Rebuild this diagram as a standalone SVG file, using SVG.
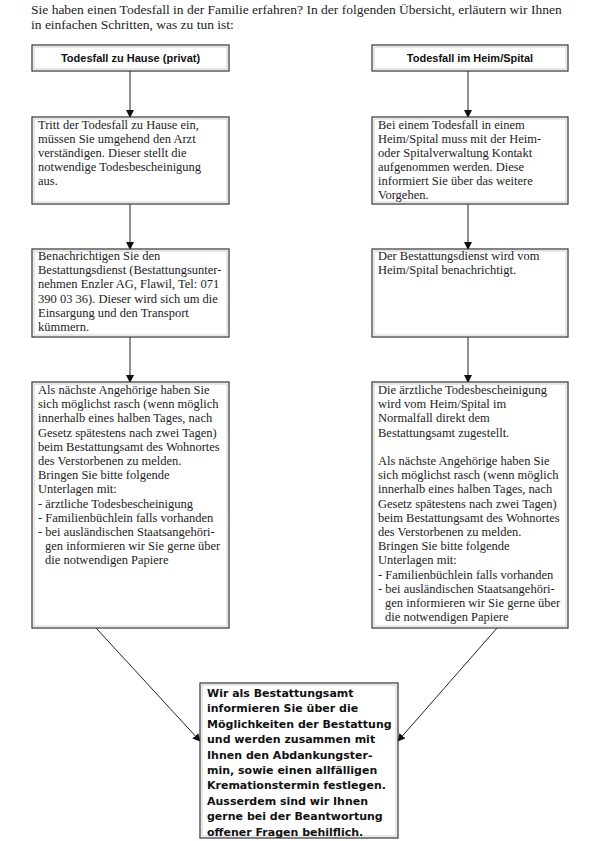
<svg xmlns="http://www.w3.org/2000/svg" width="595" height="841" viewBox="0 0 595 841">
<style>
.bg{fill:#fff}
.box{fill:#fff;stroke:#333;stroke-width:1.2}
.in{fill:none;stroke:#d0d0d0;stroke-width:1}
.t{font-family:"Liberation Serif","Times New Roman",serif;font-size:12.5px;fill:#222}
.h{font-family:"Liberation Sans",Arial,sans-serif;font-size:11px;font-weight:bold;fill:#111;text-anchor:middle}
.b{font-family:"DejaVu Sans","Liberation Sans",sans-serif;font-size:11px;font-weight:bold;fill:#111}
.c{stroke:#222;stroke-width:1;fill:none}
</style>
<defs>
<marker id="ah" markerWidth="8" markerHeight="8" refX="7" refY="4" orient="auto" markerUnits="userSpaceOnUse">
<path d="M0,0 L8,4 L0,8 Z" fill="#111"/>
</marker>
</defs>
<rect class="bg" x="0" y="0" width="595" height="841"/>
<g id="intro" class="t" style="font-size:13.5px">
<text x="31" y="14">Sie haben einen Todesfall in der Familie erfahren? In der folgenden Übersicht, erläutern wir Ihnen</text>
<text x="31" y="29">in einfachen Schritten, was zu tun ist:</text>
</g>
<g id="connectors">
<line class="c" x1="130" y1="71" x2="130" y2="117" marker-end="url(#ah)"/>
<line class="c" x1="468" y1="71" x2="468" y2="117" marker-end="url(#ah)"/>
<line class="c" x1="130" y1="204" x2="130" y2="249" marker-end="url(#ah)"/>
<line class="c" x1="468" y1="204" x2="468" y2="249" marker-end="url(#ah)"/>
<line class="c" x1="130" y1="337" x2="130" y2="382" marker-end="url(#ah)"/>
<line class="c" x1="468" y1="337" x2="468" y2="382" marker-end="url(#ah)"/>
<line class="c" x1="96" y1="628" x2="200" y2="741" marker-end="url(#ah)"/>
<line class="c" x1="497" y1="628" x2="398" y2="741" marker-end="url(#ah)"/>
</g>
<g id="head-left">
<rect class="box" x="32" y="45" width="197" height="26"/>
<rect class="in" x="34" y="47" width="193" height="22"/>
<text class="h" x="130.5" y="62">Todesfall zu Hause (privat)</text>
</g>
<g id="head-right">
<rect class="box" x="372" y="45" width="196" height="26"/>
<rect class="in" x="374" y="47" width="192" height="22"/>
<text class="h" x="470" y="62">Todesfall im Heim/Spital</text>
</g>
<g id="left-1">
<rect class="box" x="32" y="117" width="197" height="87"/>
<rect class="in" x="34" y="119" width="193" height="83"/>
<text class="t" x="38" y="129">Tritt der Todesfall zu Hause ein,</text>
<text class="t" x="38" y="143">müssen Sie umgehend den Arzt</text>
<text class="t" x="38" y="157">verständigen. Dieser stellt die</text>
<text class="t" x="38" y="171">notwendige Todesbescheinigung</text>
<text class="t" x="38" y="185">aus.</text>
</g>
<g id="right-1">
<rect class="box" x="372" y="117" width="196" height="87"/>
<rect class="in" x="374" y="119" width="192" height="83"/>
<text class="t" x="378" y="129">Bei einem Todesfall in einem</text>
<text class="t" x="378" y="143">Heim/Spital muss mit der Heim-</text>
<text class="t" x="378" y="157">oder Spitalverwaltung Kontakt</text>
<text class="t" x="378" y="171">aufgenommen werden. Diese</text>
<text class="t" x="378" y="185">informiert Sie über das weitere</text>
<text class="t" x="378" y="199">Vorgehen.</text>
</g>
<g id="left-2">
<rect class="box" x="32" y="249" width="197" height="88"/>
<rect class="in" x="34" y="251" width="193" height="84"/>
<text class="t" x="38" y="260">Benachrichtigen Sie den</text>
<text class="t" x="38" y="274.2">Bestattungsdienst (Bestattungsunter-</text>
<text class="t" x="38" y="288.4">nehmen Enzler AG, Flawil, Tel: 071</text>
<text class="t" x="38" y="302.6">390 03 36). Dieser wird sich um die</text>
<text class="t" x="38" y="316.8">Einsargung und den Transport</text>
<text class="t" x="38" y="331">kümmern.</text>
</g>
<g id="right-2">
<rect class="box" x="372" y="249" width="196" height="88"/>
<rect class="in" x="374" y="251" width="192" height="84"/>
<text class="t" x="378" y="260">Der Bestattungsdienst wird vom</text>
<text class="t" x="378" y="274.2">Heim/Spital benachrichtigt.</text>
</g>
<g id="left-3">
<rect class="box" x="32" y="382" width="197" height="246"/>
<rect class="in" x="34" y="384" width="193" height="242"/>
<text class="t" x="38" y="394">Als nächste Angehörige haben Sie</text>
<text class="t" x="38" y="408.2">sich möglichst rasch (wenn möglich</text>
<text class="t" x="38" y="422.4">innerhalb eines halben Tages, nach</text>
<text class="t" x="38" y="436.6">Gesetz spätestens nach zwei Tagen)</text>
<text class="t" x="38" y="450.8">beim Bestattungsamt des Wohnortes</text>
<text class="t" x="38" y="465">des Verstorbenen zu melden.</text>
<text class="t" x="38" y="479.2">Bringen Sie bitte folgende</text>
<text class="t" x="38" y="493.4">Unterlagen mit:</text>
<text class="t" x="38" y="507.6">- ärztliche Todesbescheinigung</text>
<text class="t" x="38" y="521.8">- Familienbüchlein falls vorhanden</text>
<text class="t" x="38" y="536">- bei ausländischen Staatsangehöri-</text>
<text class="t" x="45" y="550.2">gen informieren wir Sie gerne über</text>
<text class="t" x="45" y="564.4">die notwendigen Papiere</text>
</g>
<g id="right-3">
<rect class="box" x="372" y="382" width="196" height="246"/>
<rect class="in" x="374" y="384" width="192" height="242"/>
<text class="t" x="378" y="394">Die ärztliche Todesbescheinigung</text>
<text class="t" x="378" y="408.2">wird vom Heim/Spital im</text>
<text class="t" x="378" y="422.4">Normalfall direkt dem</text>
<text class="t" x="378" y="436.6">Bestattungsamt zugestellt.</text>
<text class="t" x="378" y="465">Als nächste Angehörige haben Sie</text>
<text class="t" x="378" y="479.2">sich möglichst rasch (wenn möglich</text>
<text class="t" x="378" y="493.4">innerhalb eines halben Tages, nach</text>
<text class="t" x="378" y="507.6">Gesetz spätestens nach zwei Tagen)</text>
<text class="t" x="378" y="521.8">beim Bestattungsamt des Wohnortes</text>
<text class="t" x="378" y="536">des Verstorbenen zu melden.</text>
<text class="t" x="378" y="550.2">Bringen Sie bitte folgende</text>
<text class="t" x="378" y="564.4">Unterlagen mit:</text>
<text class="t" x="378" y="578.6">- Familienbüchlein falls vorhanden</text>
<text class="t" x="378" y="592.8">- bei ausländischen Staatsangehöri-</text>
<text class="t" x="385" y="607">gen informieren wir Sie gerne über</text>
<text class="t" x="385" y="621.2">die notwendigen Papiere</text>
</g>
<g id="bottom">
<rect class="box" x="200" y="683" width="198" height="155"/>
<rect class="in" x="202" y="685" width="194" height="151"/>
<text class="b" x="207" y="697">Wir als Bestattungsamt</text>
<text class="b" x="207" y="712.4">informieren Sie über die</text>
<text class="b" x="207" y="727.8">Möglichkeiten der Bestattung</text>
<text class="b" x="207" y="743.2">und werden zusammen mit</text>
<text class="b" x="207" y="758.6">Ihnen den Abdankungster-</text>
<text class="b" x="207" y="774">min, sowie einen allfälligen</text>
<text class="b" x="207" y="789.4">Kremationstermin festlegen.</text>
<text class="b" x="207" y="804.8">Ausserdem sind wir Ihnen</text>
<text class="b" x="207" y="820.2">gerne bei der Beantwortung</text>
<text class="b" x="207" y="835.6">offener Fragen behilflich.</text>
</g>
</svg>
